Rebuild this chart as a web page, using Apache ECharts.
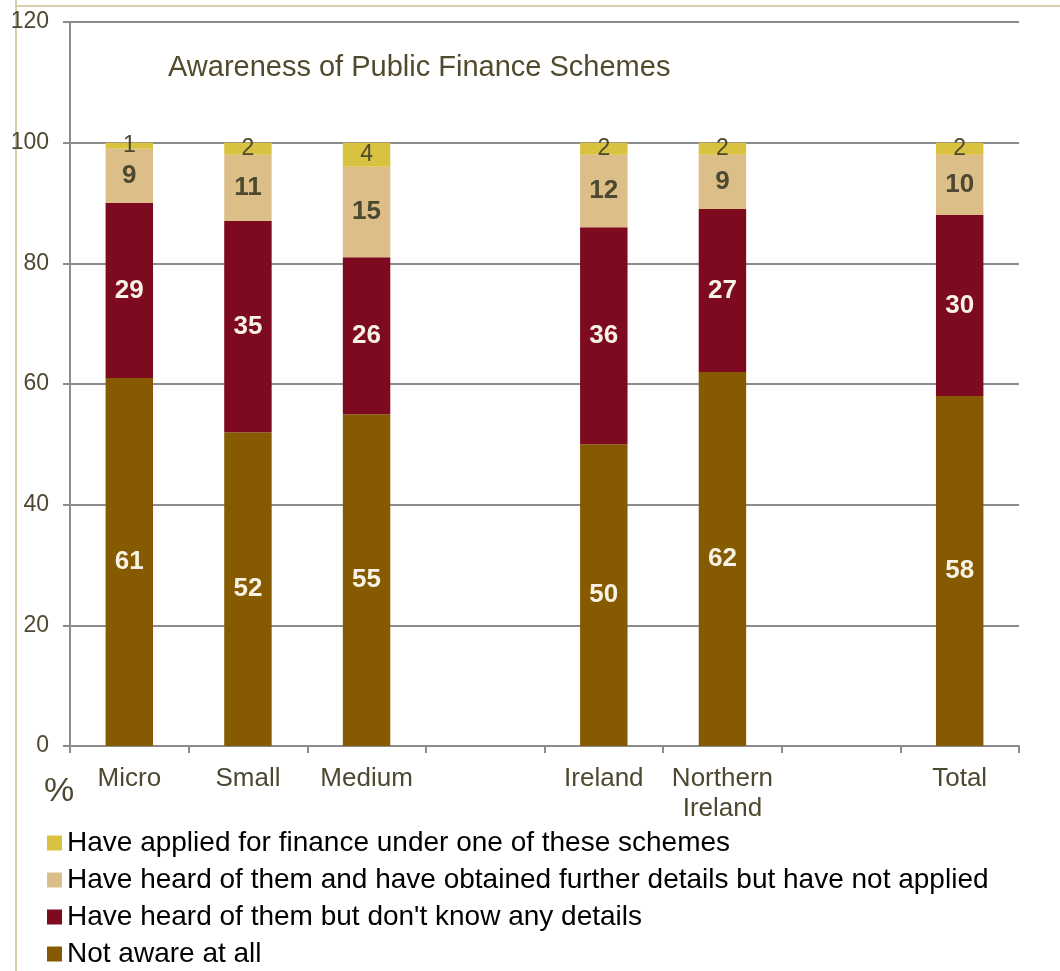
<!DOCTYPE html>
<html>
<head>
<meta charset="utf-8">
<script src="https://cdn.jsdelivr.net/npm/echarts@6/dist/echarts.min.js"></script>
<style>
html,body{margin:0;padding:0;background:#fff;}
#chart{width:1060px;height:971px;}
</style>
</head>
<body>
<div id="chart"></div>
<script>
const categories = ['Micro', 'Small', 'Medium', '', 'Ireland', 'Northern\nIreland', '', 'Total'];
const notAware = [61, 52, 55, null, 50, 62, null, 58];
const heardNoDetails = [29, 35, 26, null, 36, 27, null, 30];
const furtherDetails = [9, 11, 15, null, 12, 9, null, 10];
const applied = [1, 2, 4, null, 2, 2, null, 2];
const yTicks = [0, 20, 40, 60, 80, 100, 120];

const seriesNames = [
  'Not aware at all',
  "Have heard of them but don't know any details",
  'Have heard of them and have obtained further details but have not applied',
  'Have applied for finance under one of these schemes'
];

const font = 'Liberation Sans, Arial, sans-serif';
const dark = '#4d4830';

const chart = echarts.init(document.getElementById('chart'));

function mk(name, data, color, labelColor, bold, size) {
  return {
    name: name,
    type: 'bar',
    stack: 'total',
    data: data,
    barWidth: '40%',
    itemStyle: { color: color },
    label: {
      show: true,
      position: 'inside',
      color: labelColor,
      fontFamily: font,
      fontSize: size,
      fontWeight: bold ? 'bold' : 'normal'
    },
    emphasis: { disabled: true }
  };
}

chart.setOption({
  animation: false,
  backgroundColor: '#fff',
  title: {
    text: 'Awareness of Public Finance Schemes',
    left: 163,
    top: 48,
    textStyle: { fontFamily: font, fontSize: 29, fontWeight: 'normal', color: '#514b2d' }
  },
  grid: { left: 70, right: 41, top: 22, bottom: 225, containLabel: false },
  legend: {
    orient: 'vertical',
    left: 47,
    top: 829,
    padding: 0,
    itemWidth: 15,
    itemHeight: 15,
    itemGap: 9,
    icon: 'rect',
    data: [seriesNames[3], seriesNames[2], seriesNames[1], seriesNames[0]],
    textStyle: { fontFamily: font, fontSize: 28, color: '#000' }
  },
  xAxis: {
    type: 'category',
    data: categories,
    boundaryGap: true,
    axisLine: { lineStyle: { color: '#8c8c8c', width: 2 } },
    axisTick: { show: true, length: 7, lineStyle: { color: '#8c8c8c', width: 2 } },
    axisLabel: { fontFamily: font, fontSize: 26, color: dark, margin: 18, lineHeight: 30, interval: 0 }
  },
  yAxis: {
    type: 'value',
    min: 0,
    max: 120,
    interval: 20,
    axisLine: { show: true, lineStyle: { color: '#8c8c8c', width: 2 } },
    axisTick: { show: true, length: 7, lineStyle: { color: '#8c8c8c', width: 2 } },
    splitLine: { lineStyle: { color: '#8c8c8c', width: 2 } },
    axisLabel: {
      fontFamily: font, fontSize: 23, color: dark, margin: 21,
      formatter: function (v) { return yTicks.indexOf(v) >= 0 ? String(v) : ''; }
    }
  },
  series: [
    mk(seriesNames[0], notAware, '#855a00', '#f7f2e4', true, 26),
    mk(seriesNames[1], heardNoDetails, '#7d0a1e', '#f7f2e4', true, 26),
    mk(seriesNames[2], furtherDetails, '#dcbe88', dark, true, 26),
    mk(seriesNames[3], applied, '#d9c240', dark, false, 23)
  ],
  graphic: [
    { type: 'line', shape: { x1: 16, y1: 0, x2: 16, y2: 971 }, style: { stroke: '#d9d0aa', lineWidth: 2 }, z: -1 },
    { type: 'line', shape: { x1: 16, y1: 6, x2: 1060, y2: 6 }, style: { stroke: '#d9d0aa', lineWidth: 2 }, z: -1 },
    { type: 'text', left: 44, top: 775, style: { text: '%', fontFamily: font, fontSize: 34, fill: dark } }
  ]
});
</script>
</body>
</html>
